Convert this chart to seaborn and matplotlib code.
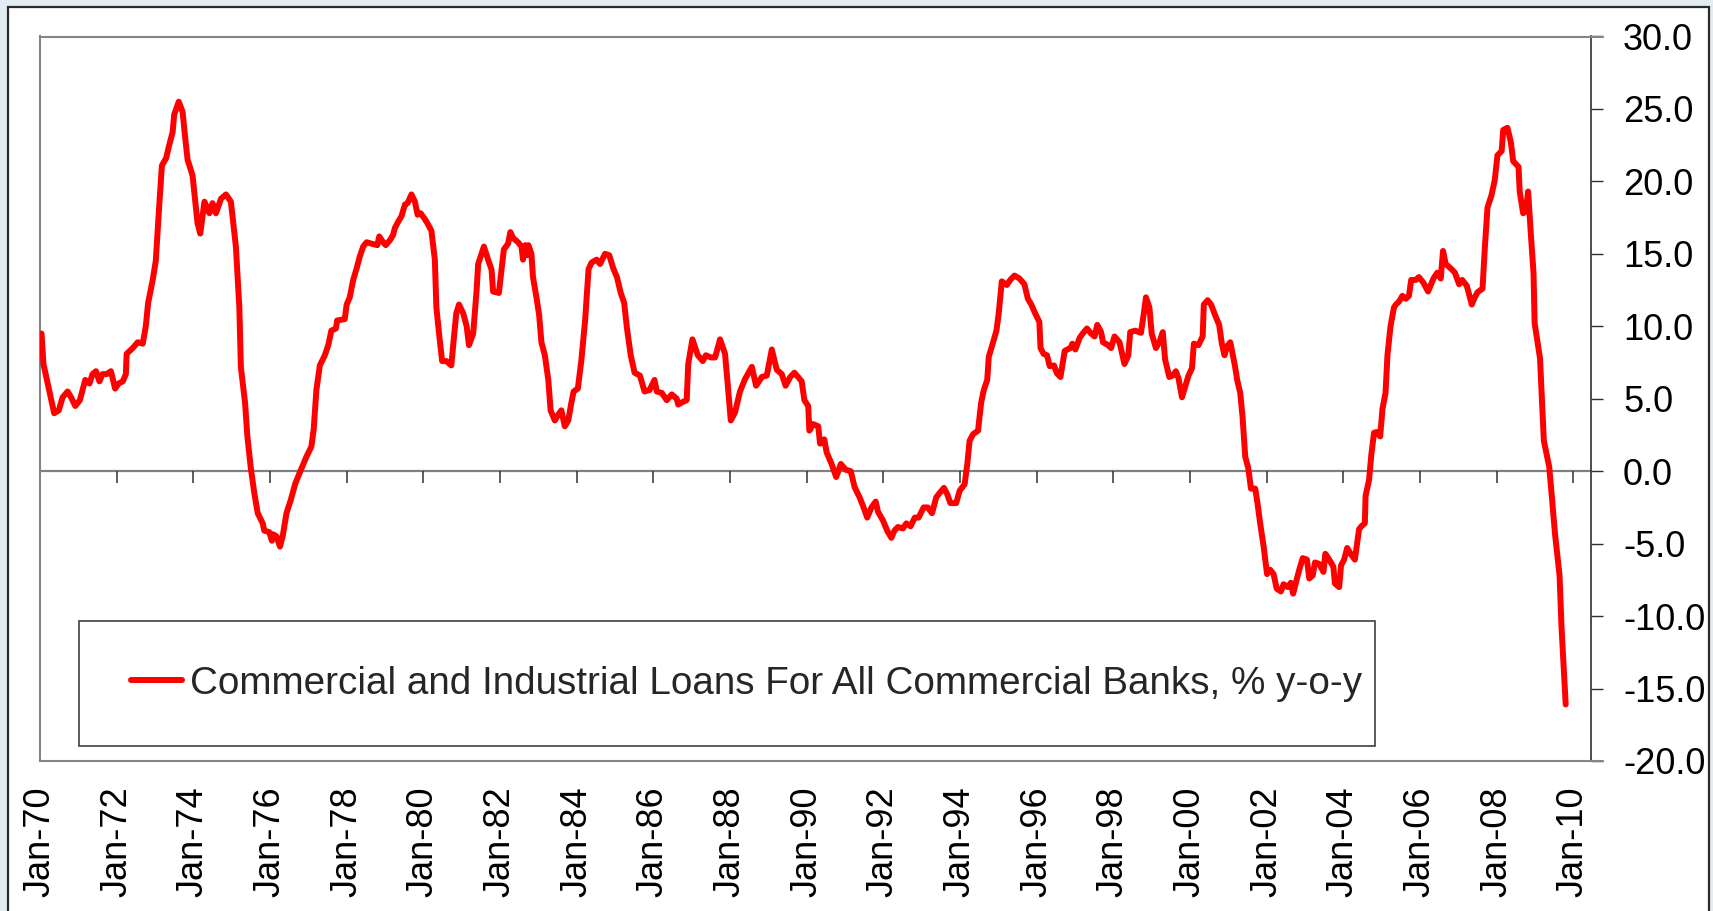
import matplotlib
matplotlib.use("Agg")
import matplotlib.pyplot as plt
from matplotlib.patches import Rectangle
from matplotlib.lines import Line2D
from matplotlib.ticker import FuncFormatter
import pandas as pd
import seaborn as sns

# Year-over-year growth of C&I loans, dates as decimal years
dates = [
    1970.04, 1970.09, 1970.37, 1970.49, 1970.59, 1970.72, 1970.81, 1970.92,
    1971.04, 1971.18, 1971.29, 1971.37, 1971.46, 1971.55, 1971.63, 1971.74,
    1971.85, 1971.96, 1972.05, 1972.16, 1972.24, 1972.26, 1972.42, 1972.55,
    1972.68, 1972.76, 1972.82, 1972.94, 1973.02, 1973.11, 1973.18, 1973.29,
    1973.37, 1973.46, 1973.50, 1973.62, 1973.72, 1973.78, 1973.85, 1973.98,
    1974.11, 1974.18, 1974.29, 1974.42, 1974.50, 1974.59, 1974.72, 1974.85,
    1974.98, 1975.11, 1975.20, 1975.24, 1975.35, 1975.41, 1975.50, 1975.59,
    1975.68, 1975.81, 1975.85, 1975.98, 1976.05, 1976.08, 1976.17, 1976.26,
    1976.33, 1976.43, 1976.54, 1976.66, 1976.76, 1976.95, 1977.08, 1977.14,
    1977.21, 1977.30, 1977.43, 1977.52, 1977.60, 1977.72, 1977.75, 1977.95,
    1978.00, 1978.08, 1978.17, 1978.26, 1978.34, 1978.43, 1978.52, 1978.65,
    1978.80, 1978.85, 1978.95, 1979.02, 1979.13, 1979.21, 1979.26, 1979.34,
    1979.43, 1979.52, 1979.59, 1979.69, 1979.78, 1979.85, 1979.93, 1980.04,
    1980.13, 1980.21, 1980.30, 1980.34, 1980.41, 1980.49, 1980.60, 1980.73,
    1980.80, 1980.86, 1980.93, 1981.04, 1981.13, 1981.19, 1981.30, 1981.39,
    1981.43, 1981.58, 1981.69, 1981.78, 1981.82, 1981.97, 1982.04, 1982.10,
    1982.21, 1982.27, 1982.34, 1982.47, 1982.56, 1982.60, 1982.66, 1982.72,
    1982.74, 1982.82, 1982.86, 1982.95, 1983.02, 1983.08, 1983.17, 1983.26,
    1983.32, 1983.43, 1983.52, 1983.60, 1983.69, 1983.78, 1983.86, 1983.92,
    1984.03, 1984.12, 1984.22, 1984.31, 1984.39, 1984.52, 1984.61, 1984.74,
    1984.85, 1984.96, 1985.05, 1985.15, 1985.24, 1985.31, 1985.41, 1985.51,
    1985.65, 1985.77, 1985.90, 1986.03, 1986.09, 1986.22, 1986.35, 1986.48,
    1986.61, 1986.65, 1986.78, 1986.87, 1986.91, 1987.02, 1987.16, 1987.29,
    1987.37, 1987.50, 1987.61, 1987.74, 1987.87, 1987.94, 1988.02, 1988.13,
    1988.26, 1988.39, 1988.57, 1988.68, 1988.83, 1988.96, 1989.09, 1989.22,
    1989.35, 1989.45, 1989.57, 1989.68, 1989.87, 1989.94, 1990.04, 1990.07,
    1990.17, 1990.30, 1990.35, 1990.46, 1990.52, 1990.65, 1990.77, 1990.89,
    1991.02, 1991.15, 1991.25, 1991.38, 1991.47, 1991.58, 1991.69, 1991.80,
    1991.86, 1991.99, 1992.10, 1992.21, 1992.29, 1992.38, 1992.51, 1992.60,
    1992.71, 1992.82, 1992.92, 1993.05, 1993.16, 1993.27, 1993.38, 1993.47,
    1993.58, 1993.66, 1993.75, 1993.90, 1993.99, 1994.12, 1994.19, 1994.25,
    1994.34, 1994.47, 1994.55, 1994.62, 1994.71, 1994.75, 1994.83, 1994.95,
    1995.01, 1995.09, 1995.22, 1995.31, 1995.42, 1995.55, 1995.68, 1995.77,
    1995.86, 1995.96, 1996.07, 1996.10, 1996.18, 1996.27, 1996.34, 1996.45,
    1996.53, 1996.62, 1996.73, 1996.80, 1996.88, 1996.93, 1997.01, 1997.12,
    1997.20, 1997.31, 1997.42, 1997.51, 1997.58, 1997.68, 1997.73, 1997.86,
    1997.94, 1998.03, 1998.16, 1998.29, 1998.39, 1998.44, 1998.57, 1998.72,
    1998.79, 1998.85, 1998.94, 1999.00, 1999.11, 1999.20, 1999.29, 1999.35,
    1999.46, 1999.55, 1999.63, 1999.70, 1999.79, 1999.87, 1999.96, 2000.05,
    2000.10, 2000.22, 2000.33, 2000.36, 2000.46, 2000.55, 2000.65, 2000.76,
    2000.83, 2000.90, 2000.96, 2001.05, 2001.17, 2001.23, 2001.31, 2001.37,
    2001.44, 2001.52, 2001.59, 2001.70, 2001.76, 2001.83, 2001.92, 2002.01,
    2002.09, 2002.18, 2002.26, 2002.37, 2002.44, 2002.55, 2002.63, 2002.69,
    2002.78, 2002.85, 2002.94, 2003.05, 2003.11, 2003.20, 2003.26, 2003.37,
    2003.48, 2003.53, 2003.63, 2003.74, 2003.78, 2003.89, 2003.94, 2004.02,
    2004.10, 2004.19, 2004.30, 2004.41, 2004.47, 2004.56, 2004.58, 2004.67,
    2004.73, 2004.80, 2004.87, 2004.96, 2005.02, 2005.10, 2005.15, 2005.23,
    2005.32, 2005.37, 2005.45, 2005.54, 2005.63, 2005.71, 2005.77, 2005.89,
    2005.97, 2006.09, 2006.21, 2006.35, 2006.45, 2006.54, 2006.60, 2006.67,
    2006.80, 2006.91, 2007.02, 2007.10, 2007.22, 2007.28, 2007.35, 2007.41,
    2007.50, 2007.63, 2007.69, 2007.76, 2007.86, 2007.95, 2008.02, 2008.13,
    2008.17, 2008.28, 2008.37, 2008.43, 2008.57, 2008.60, 2008.69, 2008.76,
    2008.82, 2008.89, 2008.96, 2008.99, 2009.13, 2009.23, 2009.37, 2009.45,
    2009.52, 2009.64, 2009.69, 2009.80,
]

values = [
    9.5, 7.4, 4.0, 4.2, 5.1, 5.5, 5.1, 4.5,
    4.9, 6.3, 6.05, 6.7, 6.9, 6.2, 6.7, 6.7,
    6.9, 5.7, 6.05, 6.2, 6.7, 8.1, 8.5, 8.9,
    8.8, 10.0, 11.6, 13.2, 14.5, 18.3, 21.1, 21.6,
    22.5, 23.4, 24.6, 25.5, 24.8, 23.2, 21.5, 20.4,
    17.1, 16.4, 18.6, 17.8, 18.5, 17.8, 18.8, 19.1,
    18.6, 15.5, 11.3, 7.2, 4.7, 2.4, 0.2, -1.5,
    -2.9, -3.6, -4.1, -4.2, -4.8, -4.35, -4.5, -5.2,
    -4.5, -2.9, -2.0, -0.85, -0.2, 1.0, 1.7, 2.9,
    5.6, 7.3, 8.0, 8.7, 9.7, 9.85, 10.4, 10.5,
    11.5, 12.0, 13.2, 14.0, 14.8, 15.5, 15.8, 15.7,
    15.6, 16.2, 15.8, 15.6, 15.95, 16.3, 16.8, 17.2,
    17.6, 18.4, 18.5, 19.1, 18.6, 17.7, 17.8, 17.4,
    17.0, 16.6, 14.6, 11.3, 9.5, 7.6, 7.6, 7.3,
    9.3, 10.9, 11.5, 10.9, 10.0, 8.7, 9.5, 12.5,
    14.3, 15.5, 14.6, 13.9, 12.4, 12.3, 13.9, 15.3,
    15.7, 16.5, 16.1, 15.8, 15.5, 14.6, 15.6, 14.9,
    15.6, 15.0, 13.4, 12.0, 10.8, 8.9, 8.0, 6.3,
    4.2, 3.5, 3.9, 4.2, 3.1, 3.5, 4.7, 5.5,
    5.7, 7.6, 10.4, 13.95, 14.4, 14.6, 14.3, 15.0,
    14.9, 13.95, 13.4, 12.3, 11.6, 9.9, 8.0, 6.8,
    6.6, 5.5, 5.6, 6.3, 5.5, 5.4, 4.9, 5.3,
    5.0, 4.6, 4.8, 4.9, 7.4, 9.1, 8.0, 7.6,
    8.0, 7.85, 7.85, 9.1, 8.1, 6.0, 3.5, 4.05,
    5.5, 6.35, 7.2, 5.9, 6.5, 6.6, 8.4, 7.0,
    6.7, 5.9, 6.5, 6.8, 6.2, 4.9, 4.5, 2.8,
    3.25, 3.1, 1.9, 2.2, 1.3, 0.5, -0.4, 0.5,
    0.1, 0.0, -1.1, -1.8, -2.4, -3.2, -2.5, -2.1,
    -2.8, -3.4, -4.1, -4.6, -4.1, -3.85, -3.95, -3.6,
    -3.8, -3.2, -3.2, -2.5, -2.5, -2.9, -1.8, -1.5,
    -1.15, -1.55, -2.2, -2.2, -1.35, -0.9, 0.5, 2.1,
    2.55, 2.8, 4.7, 5.6, 6.3, 7.9, 8.6, 9.7,
    10.9, 13.1, 12.85, 13.2, 13.5, 13.3, 12.9, 11.9,
    11.5, 10.9, 10.3, 8.5, 8.1, 8.0, 7.25, 7.3,
    6.75, 6.5, 8.3, 8.4, 8.5, 8.8, 8.4, 9.2,
    9.5, 9.85, 9.5, 9.3, 10.1, 9.6, 8.9, 8.7,
    8.5, 9.3, 8.9, 7.4, 8.0, 9.6, 9.7, 9.55,
    10.8, 12.0, 11.3, 9.5, 8.5, 8.9, 9.6, 7.7,
    6.5, 6.6, 6.9, 6.4, 5.1, 5.8, 6.6, 7.1,
    8.8, 8.7, 9.3, 11.5, 11.8, 11.5, 10.8, 10.1,
    8.8, 8.0, 8.6, 8.9, 7.3, 6.3, 5.4, 3.75,
    1.0, 0.2, -1.2, -1.2, -2.2, -3.6, -5.2, -7.1,
    -6.8, -7.1, -8.1, -8.3, -7.8, -8.0, -7.7, -8.45,
    -7.5, -6.8, -6.0, -6.1, -7.4, -7.2, -6.3, -6.4,
    -6.95, -5.7, -6.1, -6.6, -7.75, -8.0, -6.5, -6.1,
    -5.3, -5.7, -6.1, -4.0, -3.8, -3.6, -1.7, -0.6,
    1.15, 2.65, 2.7, 2.4, 4.3, 5.4, 8.0, 10.0,
    11.3, 11.5, 11.7, 12.1, 11.9, 12.1, 13.2, 13.2,
    13.4, 13.0, 12.4, 13.3, 13.7, 13.3, 15.2, 14.3,
    14.0, 13.7, 12.9, 13.2, 12.8, 12.2, 11.5, 11.9,
    12.35, 12.6, 15.4, 18.2, 19.0, 20.1, 21.8, 22.1,
    23.55, 23.7, 22.7, 21.4, 21.0, 19.3, 17.8, 17.95,
    19.3, 16.4, 13.7, 10.2, 7.8, 2.1, 0.3, -2.1,
    -4.3, -7.2, -10.7, -16.1,
]

tick_years = list(range(1970, 2011, 2))
tick_labels = [f"Jan-{y % 100:02d}" for y in tick_years]
y_ticks = [30, 25, 20, 15, 10, 5, 0, -5, -10, -15, -20]
series_label = "Commercial and Industrial Loans For All Commercial Banks, % y-o-y"

sns.set_theme(style="white")
plt.rcParams["font.family"] = ["Liberation Sans", "DejaVu Sans"]

W, H = 1713, 911
fig = plt.figure(figsize=(W / 100, H / 100), dpi=100, facecolor="#e2ecf3")

# white sheet with a dark outer frame, kept behind the axes
sheet = Rectangle((8 / W, -0.02), (1709 - 8) / W, 1 - 7 / H + 0.02,
                  transform=fig.transFigure, facecolor="white",
                  edgecolor="#2a2a2a", lw=1.6)
sheet.set_zorder(-10)
fig.add_artist(sheet)

left, right, top, bottom = 40, 1591, 36.5, 761
ax = fig.add_axes([left / W, 1 - bottom / H, (right - left) / W, (bottom - top) / H])
ax.set_facecolor("white")
ax.set_zorder(1)

line_w = 4.3
df = pd.DataFrame({"date": dates, "value": values})
sns.lineplot(data=df, x="date", y="value", color="#ff0000", linewidth=line_w, ax=ax,
             label=series_label, sort=False, legend=False,
             solid_joinstyle="round", solid_capstyle="round", zorder=3)
for ln in ax.lines:
    ln.set_linewidth(line_w)

ax.set_xlim(1970, 2010.46)
ax.set_ylim(-20, 30)
ax.set_xlabel("")
ax.set_ylabel("")

# plot-area border: grey on top/left/bottom, value axis on the right
for side in ("top", "left", "bottom"):
    ax.spines[side].set_color("#858585")
    ax.spines[side].set_linewidth(1.5)
ax.spines["right"].set_color("#303030")
ax.spines["right"].set_linewidth(1.2)
ext = (1603 - left) / (right - left)
for yy in (0, 1):
    ax.add_line(Line2D([1, ext], [yy, yy], transform=ax.transAxes, color="#858585",
                       lw=1.5, clip_on=False))

# value axis on the right
ax.yaxis.tick_right()
ax.set_yticks(y_ticks)
ax.yaxis.set_major_formatter(FuncFormatter(lambda v, p: f"{v:.1f}"))
ax.tick_params(axis="y", which="major", right=True, left=False, direction="out",
               length=8.6, width=1.0, color="#303030", pad=14.5, labelsize=26,
               labelcolor="black")

# category labels along the bottom edge
ax.set_xticks(tick_years)
ax.set_xticklabels(tick_labels, rotation=90)
ax.tick_params(axis="x", which="major", bottom=True, length=0, pad=18.5,
               labelsize=26, labelcolor="black")

# zero line carrying the date tick marks
ax.axhline(0, color="#808080", lw=1.6, zorder=2)
ax.vlines(tick_years, -0.78, 0, colors="#303030", lw=1.1, zorder=2)

# legend box
lx0, lx1 = (79 - left) / (right - left), (1375 - left) / (right - left)
ly0, ly1 = (bottom - 746) / (bottom - top), (bottom - 621) / (bottom - top)
ax.add_patch(Rectangle((lx0, ly0), lx1 - lx0, ly1 - ly0, transform=ax.transAxes,
                       facecolor="white", edgecolor="#404040", lw=1.2, zorder=4))
leg = ax.legend(loc="center left",
                bbox_to_anchor=((131 - left) / (right - left), (ly0 + ly1) / 2),
                frameon=False, fontsize=27.8, handlelength=1.33, handletextpad=0.21,
                borderpad=0, borderaxespad=0)
leg.set_zorder(5)
for h in leg.get_lines():
    h.set_linewidth(4.3)

fig.savefig("out.png", dpi=100, facecolor=fig.get_facecolor())
